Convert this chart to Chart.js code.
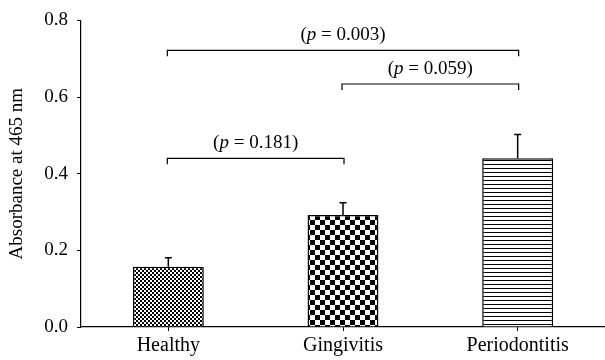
<!DOCTYPE html>
<html>
<head>
<meta charset="utf-8">
<script src="https://cdn.jsdelivr.net/npm/chart.js@4/dist/chart.umd.min.js"></script>
<style>
  body { margin: 0; background: #fff; }
</style>
</head>
<body>
<canvas id="grafica" width="605" height="360"></canvas>
<script>
// Datos
const categorias = ['Healthy', 'Gingivitis', 'Periodontitis'];
const medias = [0.157, 0.292, 0.440];
const errores = [0.024, 0.032, 0.062];
const yTicks = [0.0, 0.2, 0.4, 0.6, 0.8];

// Comparaciones (indices de categoria, altura, valor p)
const compDesde = [0, 1, 0];
const compHasta = [2, 2, 1];
const compAltura = [0.722, 0.634, 0.44];
const compP = ['0.003', '0.059', '0.181'];

const FUENTE = '"Liberation Serif", "DejaVu Serif", serif';

function patron(tipo) {
  const c = document.createElement('canvas');
  const g = c.getContext('2d');
  if (tipo === 'puntos') {
    c.width = 4; c.height = 4;
    g.fillStyle = '#fff'; g.fillRect(0, 0, 4, 4);
    g.fillStyle = '#000';
    g.fillRect(0, 0, 2, 2);
    g.fillRect(2, 2, 2, 2);
  } else if (tipo === 'cuadros') {
    c.width = 10; c.height = 10;
    g.fillStyle = '#fff'; g.fillRect(0, 0, 10, 10);
    g.fillStyle = '#000';
    g.fillRect(0, 0, 5, 5);
    g.fillRect(5, 5, 5, 5);
  } else {
    c.width = 4; c.height = 4;
    g.fillStyle = '#fff'; g.fillRect(0, 0, 4, 4);
    g.fillStyle = '#000';
    g.fillRect(0, 0, 4, 1);
  }
  return g.createPattern(c, 'repeat');
}

// Barras de error (solo superior)
const erroresPlugin = {
  id: 'errores',
  afterDatasetsDraw(chart) {
    const ctx = chart.ctx;
    const y = chart.scales.y;
    const meta = chart.getDatasetMeta(0);
    ctx.save();
    ctx.strokeStyle = '#000';
    ctx.lineWidth = 1.5;
    meta.data.forEach((bar, i) => {
      const yTop = y.getPixelForValue(medias[i] + errores[i]);
      const yBar = y.getPixelForValue(medias[i]);
      ctx.beginPath();
      ctx.moveTo(bar.x, yBar);
      ctx.lineTo(bar.x, yTop);
      ctx.moveTo(bar.x - 3.5, yTop);
      ctx.lineTo(bar.x + 3.5, yTop);
      ctx.stroke();
    });
    ctx.restore();
  }
};

// Corchetes con valores p
const corchetesPlugin = {
  id: 'corchetes',
  afterDraw(chart) {
    const ctx = chart.ctx;
    const x = chart.scales.x;
    const y = chart.scales.y;
    ctx.save();
    ctx.strokeStyle = '#000';
    ctx.fillStyle = '#000';
    ctx.lineWidth = 1.2;
    compDesde.forEach((desde, i) => {
      const x1 = x.getPixelForValue(desde) - 1;
      const x2 = x.getPixelForValue(compHasta[i]) + 1;
      const yy = y.getPixelForValue(compAltura[i]);
      ctx.beginPath();
      ctx.moveTo(x1, yy + 6);
      ctx.lineTo(x1, yy);
      ctx.lineTo(x2, yy);
      ctx.lineTo(x2, yy + 6);
      ctx.stroke();

      // texto "(p = 0.xxx)" con p en cursiva
      const normal = '19px ' + FUENTE;
      const cursiva = 'italic 19px ' + FUENTE;
      const partes = [['(', normal], ['p', cursiva], [' = ' + compP[i] + ')', normal]];
      let ancho = 0;
      partes.forEach(p => { ctx.font = p[1]; ancho += ctx.measureText(p[0]).width; });
      let cx = (x1 + x2) / 2 - ancho / 2;
      ctx.textBaseline = 'alphabetic';
      ctx.textAlign = 'left';
      partes.forEach(p => {
        ctx.font = p[1];
        ctx.fillText(p[0], cx, yy - 10);
        cx += ctx.measureText(p[0]).width;
      });
    });
    ctx.restore();
  }
};

const ctx = document.getElementById('grafica').getContext('2d');

new Chart(ctx, {
  type: 'bar',
  data: {
    labels: categorias,
    datasets: [{
      data: medias,
      backgroundColor: [patron('puntos'), patron('cuadros'), patron('lineas')],
      borderColor: '#000',
      borderWidth: 1.5,
      barPercentage: 0.406,
      categoryPercentage: 1
    }]
  },
  options: {
    responsive: false,
    animation: false,
    events: [],
    layout: { padding: { top: 18, right: 0, left: 0, bottom: 0 } },
    plugins: {
      legend: { display: false },
      tooltip: { enabled: false }
    },
    scales: {
      x: {
        grid: { offset: false, drawOnChartArea: false, drawTicks: true, tickLength: 4, color: '#000' },
        border: { display: true, color: '#000', width: 1.2 },
        ticks: {
          color: '#000',
          padding: 3,
          font: { family: FUENTE, size: 20 }
        },
        afterFit: scale => { scale.height = 33; }
      },
      y: {
        min: 0,
        max: 0.8,
        afterBuildTicks: scale => { scale.ticks = yTicks.map(v => ({ value: v })); },
        grid: { drawOnChartArea: false, drawTicks: true, tickLength: 4, color: '#000' },
        border: { display: true, color: '#000', width: 1.2 },
        ticks: {
          color: '#000',
          padding: 9,
          font: { family: FUENTE, size: 19 },
          callback: value => value.toFixed(1)
        },
        title: {
          display: true,
          text: 'Absorbance at 465 nm',
          color: '#000',
          font: { family: FUENTE, size: 19 },
          padding: { top: 6, bottom: 0 }
        },
        afterFit: scale => { scale.width = 81; }
      }
    }
  },
  plugins: [erroresPlugin, corchetesPlugin]
});
</script>
</body>
</html>
